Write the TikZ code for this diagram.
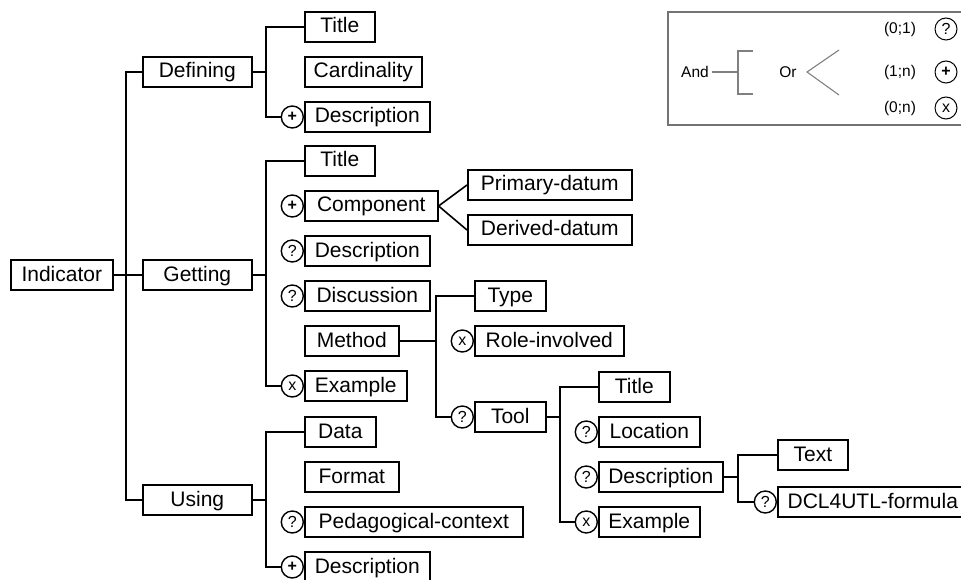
\documentclass[tikz,border=0pt]{standalone}
\usepackage{fontspec}
\setmainfont{Liberation Sans}
\usepackage{tikz}
\usetikzlibrary{positioning}

\begin{document}
\begin{tikzpicture}[
    x=1pt, y=-1pt,
    item/.style={rectangle, draw=black, line width=1.6pt, anchor=west, minimum height=30pt, inner xsep=2pt, inner ysep=0pt, text height=15.5pt, text depth=3.5pt, font=\fontsize{21}{24}\selectfont},
    card/.style={circle, draw=black, line width=1.4pt, minimum size=22pt, inner sep=0pt, font=\fontsize{16}{16}\selectfont},
    link/.style={line width=1.6pt},
    lgtext/.style={inner sep=3pt, font=\fontsize{15.5}{17}\selectfont},
    lgline/.style={draw=black!50, line width=1.1pt}
]
\useasboundingbox (0,0) rectangle (961,580);
\clip (0,0) rectangle (961,580);

% Nodes
\node[item, minimum width=102pt] (ind) at (10,275) {Indicator};

\node[item, minimum width=109pt] (def) at (142,72) {Defining};
\node[item, minimum width=109pt] (get) at (142,275) {Getting};
\node[item, minimum width=109pt] (use) at (142,500) {Using};

\node[item, minimum width=70pt] (dtitle) at (304,27) {Title};
\node[item, minimum width=117pt] (dcard) at (304,72) {Cardinality};
\node[item, minimum width=125pt] (ddesc) at (304,117) {Description};
\node[card, left=0pt of ddesc] (cddesc) {\bfseries +};

\node[item, minimum width=70pt] (gtitle) at (304,161) {Title};
\node[item, minimum width=133pt] (gcomp) at (304,206) {Component};
\node[card, left=0pt of gcomp] (cgcomp) {\bfseries +};
\node[item, minimum width=125pt] (gdesc) at (304,251) {Description};
\node[card, left=0pt of gdesc] (cgdesc) {?};
\node[item, minimum width=125pt] (gdisc) at (304,296) {Discussion};
\node[card, left=0pt of gdisc] (cgdisc) {?};
\node[item, minimum width=94pt] (gmeth) at (304,341) {Method};
\node[item, minimum width=102pt] (gex) at (304,386) {Example};
\node[card, left=0pt of gex] (cgex) {x};

\node[item, minimum width=164pt] (prim) at (467,185) {Primary-datum};
\node[item, minimum width=164pt] (deriv) at (467,230) {Derived-datum};

\node[item, minimum width=71pt] (mtype) at (474,296) {Type};
\node[item, minimum width=149pt] (mrole) at (474,341) {Role-involved};
\node[card, left=0pt of mrole] (cmrole) {x};
\node[item, minimum width=71pt] (mtool) at (474,417) {Tool};
\node[card, left=0pt of mtool] (cmtool) {?};

\node[item, minimum width=71pt] (ttitle) at (598,387) {Title};
\node[item, minimum width=101pt] (tloc) at (598,432) {Location};
\node[card, left=0pt of tloc] (ctloc) {?};
\node[item, minimum width=124pt] (tdesc) at (598,477) {Description};
\node[card, left=0pt of tdesc] (ctdesc) {?};
\node[item, minimum width=101pt] (tex) at (598,522) {Example};
\node[card, left=0pt of tex] (ctex) {x};

\node[item, minimum width=70pt] (txt) at (777,455) {Text};
\node[item, minimum width=190pt] (dcl) at (777,502) {DCL4UTL-formula};
\node[card, left=0pt of dcl] (cdcl) {?};

\node[item, minimum width=71pt] (udata) at (304,432) {Data};
\node[item, minimum width=94pt] (ufmt) at (304,477) {Format};
\node[item, minimum width=218pt] (uped) at (304,522) {Pedagogical-context};
\node[card, left=0pt of uped] (cuped) {?};
\node[item, minimum width=125pt] (udesc) at (304,567) {Description};
\node[card, left=0pt of udesc] (cudesc) {\bfseries +};

% Brackets
\coordinate (bind) at (126,0);
\coordinate (bdef) at (266,0);
\coordinate (bget) at (266,0);
\coordinate (buse) at (266,0);
\coordinate (bmeth) at (436,0);
\coordinate (btool) at (560,0);
\coordinate (btdesc) at (738,0);

\draw[link] (ind) -- (get);
\draw[link] (def) -| (bind |- use) -- (use);

\draw[link] (def) -- (def -| bdef);
\draw[link] (dtitle) -| (bdef |- cddesc) -- (cddesc);

\draw[link] (get) -- (get -| bget);
\draw[link] (gtitle) -| (bget |- cgex) -- (cgex);

\draw[link] (gcomp.east) -- (prim.west);
\draw[link] (gcomp.east) -- (deriv.west);

\draw[link] (gmeth) -- (gmeth -| bmeth);
\draw[link] (mtype) -| (bmeth |- cmtool) -- (cmtool);

\draw[link] (mtool) -- (mtool -| btool);
\draw[link] (ttitle) -| (btool |- ctex) -- (ctex);

\draw[link] (tdesc) -- (tdesc -| btdesc);
\draw[link] (txt) -| (btdesc |- cdcl) -- (cdcl);

\draw[link] (use) -- (use -| buse);
\draw[link] (udata) -| (buse |- cudesc) -- (cudesc);

% Legend
\draw[draw=black!55, line width=1.3pt] (668,12) rectangle (985,125);
\node[lgtext] (lgand) at (695,72) {And};
\coordinate (lgspine) at (738,72);
\draw[lgline] (lgand) -- (lgspine);
\draw[lgline] (753,51) -- (738,51) -- (738,94) -- (753,94);
\node[lgtext] (lgor) at (788,72) {Or};
\coordinate (lgfork) at (807,72);
\draw[lgline] (839,50) -- (lgfork) -- (839,95);
\node[lgtext] (lg01) at (900,29) {(0;1)};
\node[lgtext] (lg1n) at (900,72) {(1;n)};
\node[lgtext] (lg0n) at (900,108) {(0;n)};
\node[card, line width=1pt] (lgq) at (946,29) {?};
\node[card, line width=1pt] (lgp) at (946,72) {\bfseries +};
\node[card, line width=1pt] (lgx) at (946,108) {x};

\end{tikzpicture}
\end{document}
